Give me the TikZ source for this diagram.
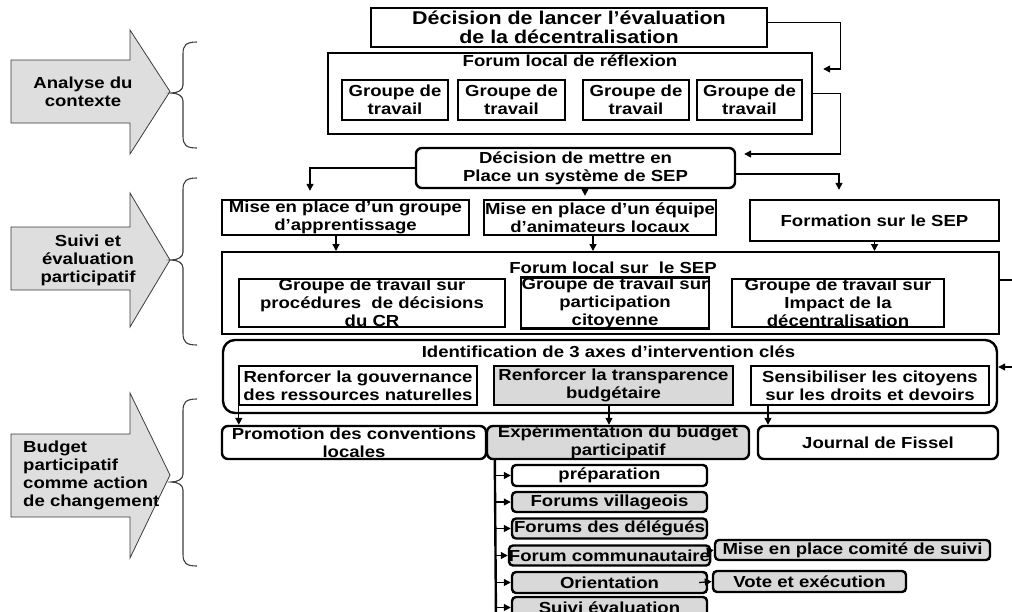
\documentclass[tikz,border=0pt]{standalone}
\usepackage{fontspec}
\setmainfont{Liberation Sans}[FakeStretch=1.16]
\usepackage{tikz}
\usetikzlibrary{arrows.meta,calc}
\definecolor{boxgray}{RGB}{217,217,217}
\definecolor{arrgray}{RGB}{222,222,222}
\definecolor{edgegray}{RGB}{60,60,60}

\begin{document}
\begin{tikzpicture}[x=1pt,y=-1pt,
  box/.style={draw, line width=2.4pt, inner sep=0pt, align=center, font=\bfseries\fontsize{16}{18}\selectfont},
  rbox/.style={box, rounded corners=6pt},
  sub/.style={box, rounded corners=4pt, fill=boxgray, minimum width=195pt, minimum height=20pt},
  head/.style={inner sep=0pt, font=\bfseries\fontsize{16}{18}\selectfont},
  conn/.style={line width=1.3pt, -{Triangle[length=7pt,width=7pt]}},
  larrow/.style={draw=edgegray, fill=arrgray, line width=0.8pt}]
\useasboundingbox (0,0) rectangle (1012,611);

\foreach \ht/\rt/\rb/\hb/\tip in {30/60/123/154/91.5, 193/227/290/327/260, 393/434/517/558/475}
  \draw[larrow] (11,\rt) -- (130,\rt) -- (130,\ht) -- (170,\tip) -- (130,\hb) -- (130,\rb) -- (11,\rb) -- cycle;
\node[head, align=center] (lab1) at (83,92) {Analyse du\\contexte};
\node[head, align=center] (lab2) at (88,260) {Suivi et\\évaluation\\participatif};
\node[head, align=left, anchor=west] (lab3) at (23,475.5) {Budget\\participatif\\comme action\\de changement};

\foreach \t/\m/\b in {42/93/148, 178/260/345, 399/482/566}
  \draw[edgegray, line width=1.1pt] (197,\t) .. controls (186,\t) and (183,\t+3) .. (183,\t+12) -- (183,\m-8)
    .. controls (183,\m-3) and (178,\m) .. (171,\m) .. controls (178,\m) and (183,\m+3) .. (183,\m+8)
    -- (183,\b-12) .. controls (183,\b-3) and (186,\b) .. (197,\b);

\node[box, minimum width=396pt, minimum height=39pt, font=\bfseries\fontsize{18.5}{19}\selectfont] (dlance) at (569,27.5) {Décision de lancer l’évaluation\\de la décentralisation};
\node[box, minimum width=484pt, minimum height=81pt] (forum1) at (570,93.5) {};
\node[head] (t1) at (570,61) {Forum local de réflexion};
\foreach \n/\x/\w in {g1/395/106, g2/511.5/107, g3/636/106, g4/749.5/105}
  \node[box, minimum width=\w pt, minimum height=40pt] (\n) at (\x,100) {Groupe de\\travail};

\node[rbox, minimum width=319pt, minimum height=40pt] (dsep) at (575.5,168) {Décision de mettre en\\Place un système de SEP};
\node[box, minimum width=247pt, minimum height=35pt] (mgroupe) at (345.5,217.5) {Mise en place d’un groupe\\d’apprentissage};
\node[box, minimum width=232pt, minimum height=35pt] (mequipe) at (600,217.5) {Mise en place d’un équipe\\d’animateurs locaux};
\node[box, minimum width=249pt, minimum height=41pt] (form) at (874.5,220.5) {Formation sur le SEP};

\node[box, line width=2pt, minimum width=777pt, minimum height=82pt] (forum2) at (610.5,293) {};
\node[head] (t2) at (613,268) {Forum local sur\ \ le SEP};
\node[box, minimum width=266pt, minimum height=48pt] (gw1) at (372,303) {Groupe de travail sur\\procédures\ \ de décisions\\du CR};
\node[box, minimum width=188pt, minimum height=48pt] (gw2) at (615,303) {Groupe de travail sur\\participation\\citoyenne};
\node[box, minimum width=212pt, minimum height=48pt] (gw3) at (838,303) {Groupe de travail sur\\Impact de la\\décentralisation};

\node[box, rounded corners=12pt, minimum width=774pt, minimum height=73pt] (ident) at (610,376.5) {};
\node[head] (t3) at (608.5,352) {Identification de 3 axes d’intervention clés};
\node[box, minimum width=238pt, minimum height=39pt] (ren1) at (358,385.5) {Renforcer la gouvernance\\des ressources naturelles};
\node[box, fill=boxgray, minimum width=239pt, minimum height=39pt] (ren2) at (613.5,385.5) {Renforcer la transparence\\budgétaire};
\node[box, minimum width=238pt, minimum height=39pt] (ren3) at (870,385.5) {Sensibiliser les citoyens\\sur les droits et devoirs};

\node[rbox, minimum width=264pt, minimum height=33pt] (promo) at (354,442.5) {Promotion des conventions\\locales};
\node[rbox, fill=boxgray, minimum width=262pt, minimum height=33pt] (exper) at (618,442.5) {Expérimentation du budget\\participatif};
\node[rbox, minimum width=240pt, minimum height=33pt] (journal) at (878,442.5) {Journal de Fissel};

\coordinate (bartop) at ([xshift=9pt]exper.south west);
\coordinate (barend) at (496,620);
\draw[line width=2.4pt] (bartop) -- (barend);

\node[sub, fill=white, minimum height=21pt] (prep) at (609.5,475.5) {préparation};
\node[sub] (fvil) at (609.5,502) {Forums villageois};
\node[sub] (fdel) at (609.5,528.5) {Forums des délégués};
\node[sub] (fcom) at (609.5,555.5) {Forum communautaire};
\node[sub, minimum height=21pt] (orient) at (609.5,582.5) {Orientation};
\node[sub, minimum height=21pt] (suivi) at (609.5,607.5) {Suivi évaluation};
\node[sub, minimum width=275pt] (comite) at (852.5,550) {Mise en place comité de suivi};
\node[sub, minimum width=193pt, minimum height=21pt] (vote) at (809.5,581.5) {Vote et exécution};

\draw[conn] ([yshift=5pt]dlance.east) -- ++(72,0) |- ([xshift=10pt,yshift=24.5pt]forum1.east);
\draw[conn] (forum1.east) -- ++(27,0) |- ([xshift=8pt,yshift=14pt]dsep.east);
\draw[conn] ([yshift=-6pt]dsep.east) -| ([xshift=-35.5pt,yshift=9pt]form.north);
\draw[conn] (dsep.west) -| ([xshift=-35.5pt,yshift=8pt]mgroupe.north);
\draw[conn] ([xshift=9.5pt]dsep.south) -- ([xshift=-15pt,yshift=3pt]mequipe.north);
\draw[conn] ([xshift=-9.5pt]mgroupe.south) -- ([xshift=-274.5pt]forum2.north);
\draw[conn] ([xshift=-7pt]mequipe.south) -- ([xshift=-17.5pt]forum2.north);
\draw[conn] (form.south) -- ([xshift=264pt]forum2.north);
\draw[conn] ([yshift=13pt]forum2.east) -- ++(26,0) |- ([yshift=9.5pt]ident.east);
\draw[conn] ([xshift=1pt]ren1.south west) -- ([xshift=18pt]promo.north west);
\draw[conn] ([xshift=-4.5pt]ren2.south) -- ([xshift=-9pt]exper.north);
\draw[conn] ([xshift=-102pt]ren3.south) -- ([xshift=-110pt]journal.north);
\foreach \n in {prep,fvil,fdel,fcom,orient,suivi}
  \draw[conn] (bartop |- \n.west) -- (\n.west);
\draw[conn] ([yshift=5pt]fcom.east) -- (comite.west);
\draw[conn] ([xshift=-9pt]orient.east) -- (vote.west);
\end{tikzpicture}
\end{document}
